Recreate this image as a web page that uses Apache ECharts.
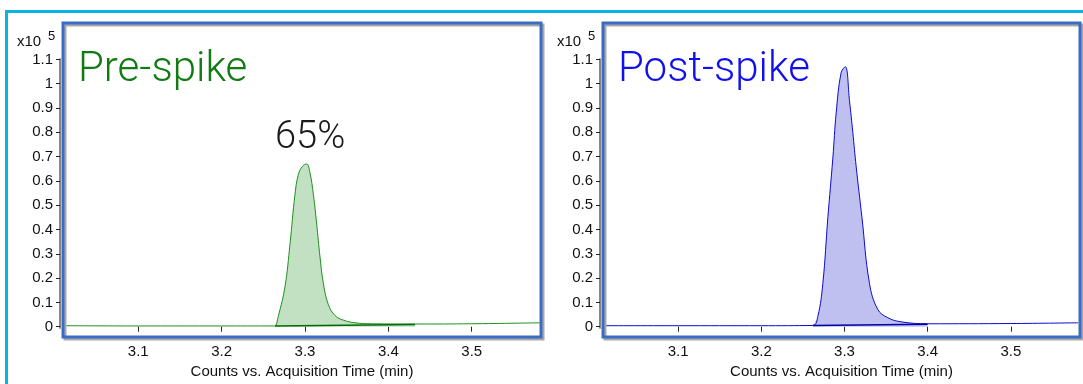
<!DOCTYPE html>
<html>
<head>
<meta charset="utf-8">
<script src="https://cdn.jsdelivr.net/npm/echarts@6/dist/echarts.min.js"></script>
<style>
  html, body { margin: 0; padding: 0; background: #fff; }
  #main { width: 1083px; height: 384px; }
</style>
</head>
<body>
<div id="main"></div>
<script>
// intensities in units of 1e5 counts, time in minutes
const yTicks = [0, 0.1, 0.2, 0.3, 0.4, 0.5, 0.6, 0.7, 0.8, 0.9, 1, 1.1];
const xTicks = [3.1, 3.2, 3.3, 3.4, 3.5];

const preTime = [3.009, 3.1, 3.2, 3.262, 3.264, 3.268, 3.276, 3.282, 3.288, 3.292, 3.297, 3.302, 3.306, 3.310, 3.314, 3.318, 3.322, 3.328, 3.336, 3.346, 3.360, 3.380, 3.432, 3.5, 3.582];
const preSignal = [0.004, 0.003, 0.003, 0.003, 0.003, 0.043, 0.165, 0.34, 0.545, 0.626, 0.66, 0.67, 0.633, 0.545, 0.423, 0.287, 0.179, 0.091, 0.046, 0.027, 0.016, 0.012, 0.011, 0.012, 0.016];
const prePeak = [3.264, 3.432];
const preBaseSignal = [0.003, 0.009];

const postTime = [3.009, 3.1, 3.2, 3.262, 3.268, 3.274, 3.280, 3.286, 3.290, 3.296, 3.301, 3.306, 3.310, 3.314, 3.321, 3.330, 3.340, 3.352, 3.368, 3.400, 3.5, 3.581];
const postSignal = [0.004, 0.004, 0.004, 0.005, 0.043, 0.179, 0.449, 0.694, 0.88, 1.046, 1.07, 0.93, 0.80, 0.66, 0.449, 0.179, 0.071, 0.037, 0.020, 0.012, 0.013, 0.016];
const postPeak = [3.262, 3.400];
const postBaseSignal = [0.005, 0.01];

const panels = [
  { title: 'Pre-spike', titleColor: '#127a12', line: '#1f8f1f', fill: '#c2e0c2', base: '#006a00',
    time: preTime, signal: preSignal, peak: prePeak, baseSignal: preBaseSignal },
  { title: 'Post-spike', titleColor: '#1010ee', line: '#0a0ad0', fill: '#c0c0f0', base: '#0000a8',
    time: postTime, signal: postSignal, peak: postPeak, baseSignal: postBaseSignal }
];

const grids = [
  { left: 63, top: 23, width: 478, height: 314 },
  { left: 603, top: 23, width: 477, height: 314 }
];

const axisFont = { fontFamily: 'Liberation Sans, Arial, sans-serif', fontSize: 15, color: '#111' };

const zip = (xs, ys) => xs.map((x, i) => [x, ys[i]]);

const series = [];
panels.forEach((p, i) => {
  const all = zip(p.time, p.signal);
  const peakPts = all.filter(d => d[0] >= p.peak[0] && d[0] <= p.peak[1]);
  series.push({
    type: 'line', xAxisIndex: i, yAxisIndex: i, data: peakPts, symbol: 'none',
    smooth: 0.4,
    lineStyle: { width: 0 }, areaStyle: { color: p.fill, opacity: 1 }, z: 2
  });
  series.push({
    type: 'line', xAxisIndex: i, yAxisIndex: i, data: all, symbol: 'none',
    smooth: 0.4,
    lineStyle: { width: 1, color: p.line }, z: 3
  });
  series.push({
    type: 'line', xAxisIndex: i, yAxisIndex: i, data: zip(p.peak, p.baseSignal), symbol: 'none',
    lineStyle: { width: 1.5, color: p.base }, z: 4
  });
});

const chart = echarts.init(document.getElementById('main'), null, { renderer: 'canvas' });

chart.setOption({
  backgroundColor: '#fff',
  animation: false,
  grid: grids,
  xAxis: grids.map((g, i) => ({
    type: 'value', gridIndex: i, min: 3.0097, max: 3.5831, offset: 3,
    splitLine: { show: false },
    axisLine: { show: false },
    axisTick: { show: true, length: 5, customValues: xTicks, lineStyle: { color: '#222' } },
    axisLabel: { customValues: xTicks, margin: 8, formatter: v => v.toFixed(1), ...axisFont },
    name: 'Counts vs. Acquisition Time (min)', nameLocation: 'middle', nameGap: 28,
    nameTextStyle: axisFont
  })),
  yAxis: grids.map((g, i) => ({
    type: 'value', gridIndex: i, min: -0.026, max: 1.25, offset: 3,
    splitLine: { show: false },
    axisLine: { show: false },
    axisTick: { show: true, length: 4, customValues: yTicks, lineStyle: { color: '#222' } },
    axisLabel: { customValues: yTicks, margin: 7, formatter: v => String(v), ...axisFont }
  })),
  series: series
});

// frames, axis lines and annotations
const graphic = [
  { type: 'rect', shape: { x: 6.5, y: 11.5, width: 1200, height: 500 }, silent: true,
    style: { fill: null, stroke: '#0ab4e2', lineWidth: 3 }, z: 0 }
];
grids.forEach((g, i) => {
  const y0 = chart.convertToPixel({ yAxisIndex: i }, 0);
  const y1 = chart.convertToPixel({ yAxisIndex: i }, 1.1);
  graphic.push(
    { type: 'rect', shape: { x: g.left + 2, y: g.top + 2, width: g.width, height: g.height }, silent: true,
      style: { fill: null, stroke: '#a8a8a8', lineWidth: 3 }, z: 10 },
    { type: 'rect', shape: { x: g.left, y: g.top, width: g.width, height: g.height }, silent: true,
      style: { fill: null, stroke: '#3a6cc4', lineWidth: 3 }, z: 11 },
    { type: 'line', shape: { x1: g.left - 3, y1: y1 - 1, x2: g.left - 3, y2: y0 + 2 }, silent: true,
      style: { stroke: '#111', lineWidth: 1 }, z: 12 },
    { type: 'text', x: g.left - 46, y: 42, silent: true,
      style: { text: 'x10', ...axisFont, fill: '#111', verticalAlign: 'middle' }, z: 12 },
    { type: 'text', x: g.left - 15, y: 36, silent: true,
      style: { text: '5', fontFamily: axisFont.fontFamily, fontSize: 13, fill: '#111', verticalAlign: 'middle' }, z: 12 },
    { type: 'text', x: g.left + 15, y: 70, silent: true,
      style: { text: panels[i].title, fontFamily: 'Roboto', fontWeight: 300, fontSize: 42,
               fill: panels[i].titleColor, verticalAlign: 'middle' }, z: 12 }
  );
});
graphic.push({ type: 'text', x: 275, y: 138, silent: true,
  style: { text: '65%', fontFamily: 'Roboto', fontWeight: 300, fontSize: 38, fill: '#1a1a1a', verticalAlign: 'middle' }, z: 12 });

chart.setOption({ graphic: graphic });
</script>
</body>
</html>
